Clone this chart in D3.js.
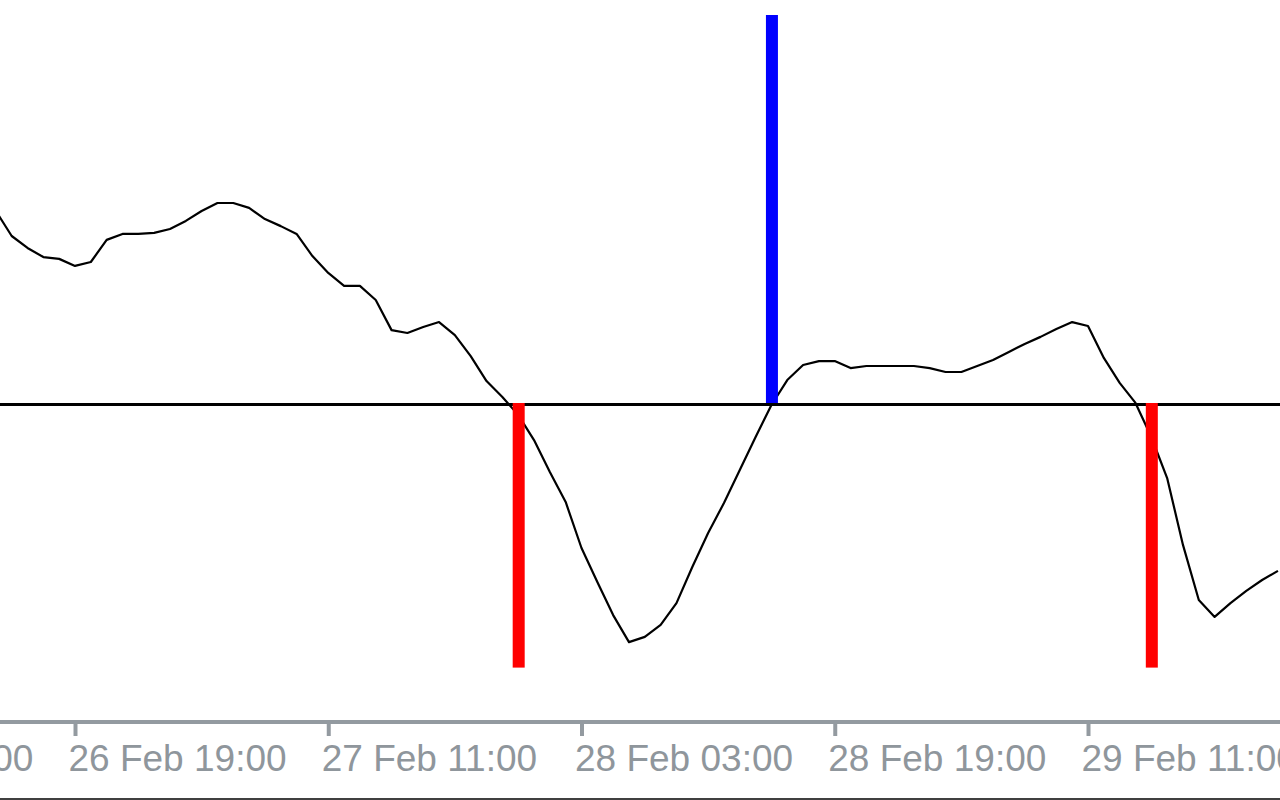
<!DOCTYPE html>
<html>
<head>
<meta charset="utf-8">
<script src="https://cdn.jsdelivr.net/npm/d3@7"></script>
<style>
  html, body { margin: 0; padding: 0; background: #ffffff; overflow: hidden; }
  svg { display: block; }
</style>
</head>
<body>
<svg id="chart" width="1280" height="800"></svg>
<script>
// ---- data ----
// hourly oscillator values, starting 26 Feb 14:00 (2024)
const startTime = "2024-02-26T14:00";
const lineValues = [
  0.746, 0.650, 0.604, 0.569, 0.562, 0.535, 0.550, 0.635, 0.658, 0.658,
  0.662, 0.677, 0.708, 0.746, 0.777, 0.777, 0.758, 0.715, 0.688, 0.658,
  0.573, 0.508, 0.458, 0.458, 0.404, 0.288, 0.277, 0.300, 0.319, 0.269,
  0.188, 0.092, 0.031, -0.038, -0.135, -0.258, -0.373, -0.550, -0.681, -0.808,
  -0.912, -0.892, -0.846, -0.762, -0.623, -0.492, -0.377, -0.250, -0.123, 0.000,
  0.096, 0.154, 0.169, 0.169, 0.142, 0.150, 0.150, 0.150, 0.150, 0.142,
  0.127, 0.127, 0.150, 0.173, 0.204, 0.235, 0.262, 0.292, 0.319, 0.304,
  0.181, 0.085, 0.008, -0.123, -0.281, -0.538, -0.750, -0.815, -0.762, -0.715,
  -0.673, -0.638
];
// signal bars
const signalTimes = ["2024-02-27T23:00", "2024-02-28T15:00", "2024-02-29T15:00"];
const signalValues = [-1.01, 1.5, -1.01];
// x-axis tick labels
const tickLabels = ["26 Feb 03:00", "26 Feb 19:00", "27 Feb 11:00", "28 Feb 03:00", "28 Feb 19:00", "29 Feb 11:00"];

// ---- setup ----
const W = 1280, H = 800;
const svg = d3.select("#chart");
const parseIso = d3.timeParse("%Y-%m-%dT%H:%M");
const parseLabel = s => d3.timeParse("%Y %d %b %H:%M")("2024 " + s);
const fmt = d3.timeFormat("%d %b %H:%M");

const t0 = parseIso(startTime);
const lineData = lineValues.map((v, i) => ({ t: d3.timeHour.offset(t0, i), v }));
const signals = signalTimes.map((s, i) => ({ t: parseIso(s), v: signalValues[i] }));
const tickDates = tickLabels.map(parseLabel);

const x = d3.scaleTime()
  .domain([tickDates[1], tickDates[5]])
  .range([75, 1088]);
const y = d3.scaleLinear()
  .domain([-1.2, 1.5])
  .range([717, 15]);

// ---- oscillator line ----
svg.append("path")
  .datum(lineData)
  .attr("fill", "none")
  .attr("stroke", "#000")
  .attr("stroke-width", 2.2)
  .attr("stroke-linejoin", "round")
  .attr("d", d3.line().x(d => x(d.t)).y(d => y(d.v)));

// ---- zero line ----
svg.append("line")
  .attr("x1", 0).attr("x2", W)
  .attr("y1", y(0) - 0.5).attr("y2", y(0) - 0.5)
  .attr("stroke", "#000").attr("stroke-width", 3);

// ---- signal bars ----
const barW = 12;
const y0top = y(0) - 2;
svg.selectAll("rect.sig")
  .data(signals)
  .join("rect")
  .attr("class", "sig")
  .attr("x", d => x(d.t) - barW / 2 + 0.5)
  .attr("width", barW)
  .attr("y", d => d.v > 0 ? y(d.v) : y0top)
  .attr("height", d => d.v > 0 ? y0top - y(d.v) : y(d.v) - y0top)
  .attr("fill", d => d.v > 0 ? "#0000ff" : "#ff0000");

// ---- x axis ----
const axisY = 722;
svg.append("line")
  .attr("x1", 0).attr("x2", W)
  .attr("y1", axisY).attr("y2", axisY)
  .attr("stroke", "#939aa0").attr("stroke-width", 4);

const axis = d3.axisBottom(x)
  .tickValues(tickDates)
  .tickFormat(fmt)
  .tickSizeInner(14)
  .tickSizeOuter(0);

const gAxis = svg.append("g")
  .attr("transform", `translate(0,${axisY})`)
  .call(axis);
gAxis.select(".domain").remove();
gAxis.selectAll(".tick line")
  .attr("stroke", "#939aa0")
  .attr("stroke-width", 4);
gAxis.selectAll(".tick text")
  .attr("text-anchor", "start")
  .attr("x", -7)
  .attr("y", 49)
  .attr("dy", 0)
  .attr("fill", "#8f969c")
  .style("font-family", "'Liberation Sans', Arial, sans-serif")
  .style("font-size", "37px");

// ---- bottom border ----
svg.append("line")
  .attr("x1", 0).attr("x2", W)
  .attr("y1", 799).attr("y2", 799)
  .attr("stroke", "#404040").attr("stroke-width", 2);
</script>
</body>
</html>
